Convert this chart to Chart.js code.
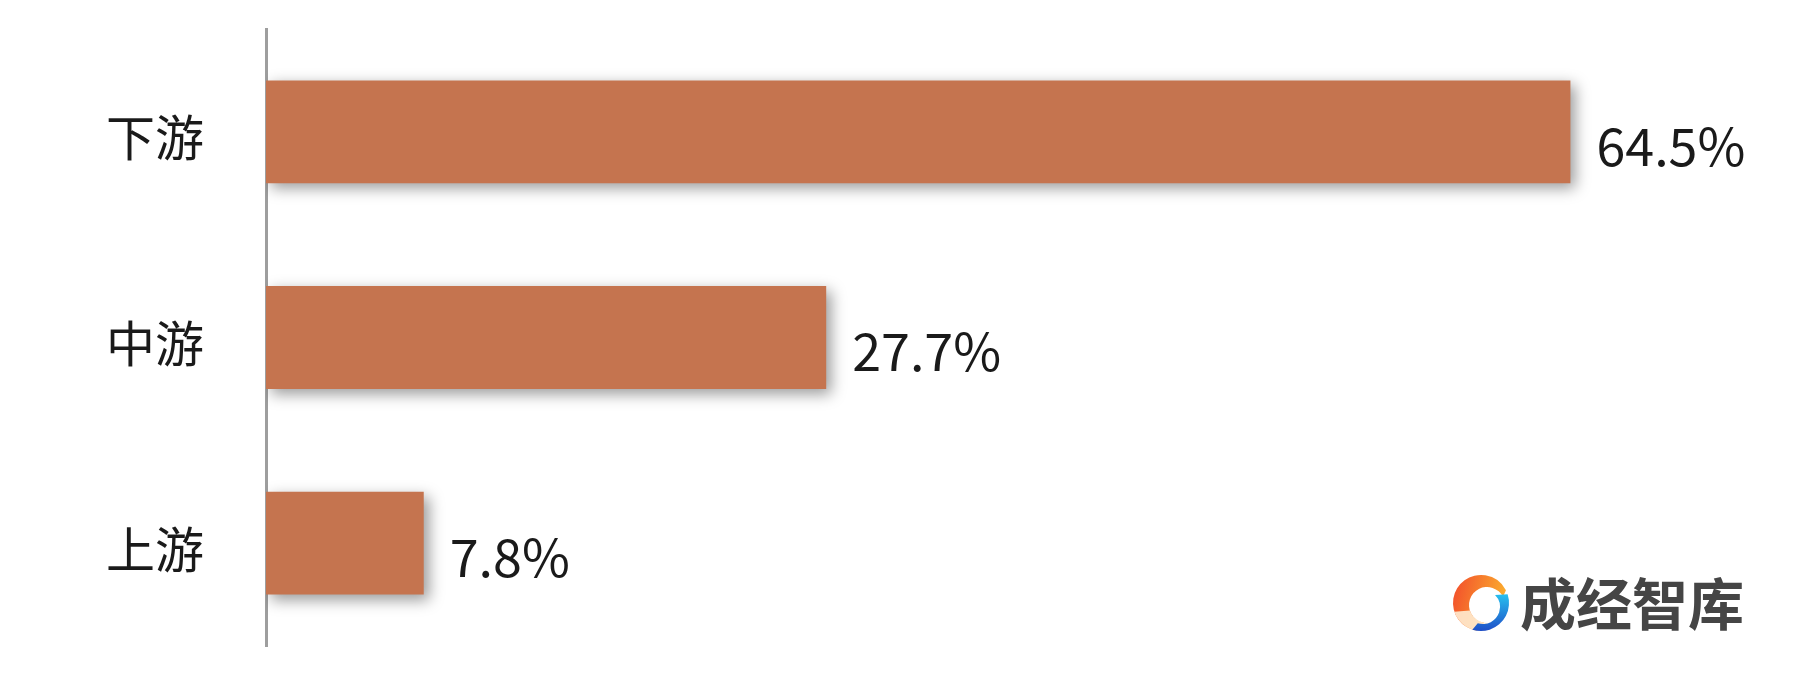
<!DOCTYPE html>
<html>
<head>
<meta charset="utf-8">
<script src="https://cdn.jsdelivr.net/npm/chart.js@4.4.1/dist/chart.umd.min.js"></script>
<style>
  html, body { margin: 0; padding: 0; background: #fff; }
  #wrap { width: 1803px; height: 679px; position: relative; }
</style>
</head>
<body>
<div id="wrap"><canvas id="c" width="1803" height="679"></canvas></div>
<script>
// data (top to bottom)
const categories = ['下游', '中游', '上游'];
const shares = [64.5, 27.7, 7.8];
const valueLabels = ['64.5%', '27.7%', '7.8%'];

const BAR_COLOR = '#C5744F';
const FONT = '"Noto Sans CJK SC", "Noto Sans", sans-serif';

// bar shadow on the dataset only
const shadowPlugin = {
    id: 'barShadow',
    beforeDatasetsDraw(chart) {
        const c = chart.ctx;
        c.save();
        c.shadowColor = 'rgba(0,0,0,0.4)';
        c.shadowBlur = 14;
        c.shadowOffsetX = 5;
        c.shadowOffsetY = 5;
    },
    afterDatasetsDraw(chart) {
        chart.ctx.restore();
    }
};

// value text right of each bar
const valuePlugin = {
    id: 'valueText',
    afterDatasetsDraw(chart) {
        const c = chart.ctx;
        const meta = chart.getDatasetMeta(0);
        c.save();
        c.font = '52px ' + FONT;
        c.fillStyle = '#1a1a1a';
        c.textAlign = 'left';
        c.textBaseline = 'middle';
        meta.data.forEach((bar, i) => {
            c.fillText(valueLabels[i], bar.x + 26, bar.y + 14);
        });
        c.restore();
    }
};

// "成经智库" watermark, bottom right
const markPlugin = {
    id: 'watermark',
    afterDraw(chart) {
        const c = chart.ctx;
        const cx = 1481, cy = 603, r = 28;
        c.save();
        // warm outer swirl
        let g = c.createLinearGradient(cx - r, cy - r, cx + r, cy - r / 2);
        g.addColorStop(0, '#F24A2B');
        g.addColorStop(1, '#FBB12E');
        c.beginPath();
        c.arc(cx, cy, r, Math.PI * 0.55, Math.PI * 1.85, false);
        c.arc(cx + 6, cy + 2, r - 10, Math.PI * 1.85, Math.PI * 0.55, true);
        c.closePath();
        c.fillStyle = g;
        c.fill();
        // pale inner fade
        c.beginPath();
        c.arc(cx, cy, r, Math.PI * 0.45, Math.PI * 0.9, false);
        c.arc(cx + 6, cy + 2, r - 10, Math.PI * 0.9, Math.PI * 0.45, true);
        c.closePath();
        c.fillStyle = 'rgba(255,236,210,0.9)';
        c.fill();
        // blue crescent
        g = c.createLinearGradient(cx, cy - 10, cx, cy + r);
        g.addColorStop(0, '#27C4F0');
        g.addColorStop(1, '#1F4FC8');
        c.beginPath();
        c.arc(cx, cy, r, Math.PI * 1.9, Math.PI * 0.6, false);
        c.arc(cx + 2, cy + 4, r - 11, Math.PI * 0.6, Math.PI * 1.75, true);
        c.closePath();
        c.fillStyle = g;
        c.fill();
        // text
        c.font = 'bold 56px ' + FONT;
        c.fillStyle = '#454545';
        c.textAlign = 'left';
        c.textBaseline = 'middle';
        c.fillText('成经智库', 1520, 604);
        c.restore();
    }
};

new Chart(document.getElementById('c'), {
    type: 'bar',
    data: {
        labels: categories,
        datasets: [{
            data: shares,
            backgroundColor: BAR_COLOR,
            borderWidth: 0,
            barPercentage: 0.5,
            categoryPercentage: 1.0
        }]
    },
    options: {
        indexAxis: 'y',
        responsive: false,
        animation: false,
        events: [],
        layout: { padding: { top: 29, bottom: 33, left: 0, right: 0 } },
        plugins: {
            legend: { display: false },
            tooltip: { enabled: false }
        },
        scales: {
            x: {
                display: false,
                min: 0,
                max: 76
            },
            y: {
                afterFit(axis) {
                    axis.width = 266;
                    // tick padding should not push the plot area in vertically
                    axis.paddingTop = 0;
                    axis.paddingBottom = 0;
                },
                grid: { display: false, drawTicks: false },
                border: { display: true, color: '#9E9E9E', width: 3 },
                ticks: {
                    color: '#1a1a1a',
                    font: { family: FONT, size: 49 },
                    padding: 62,
                    labelOffset: 6
                }
            }
        }
    },
    plugins: [shadowPlugin, valuePlugin, markPlugin]
});
</script>
</body>
</html>
